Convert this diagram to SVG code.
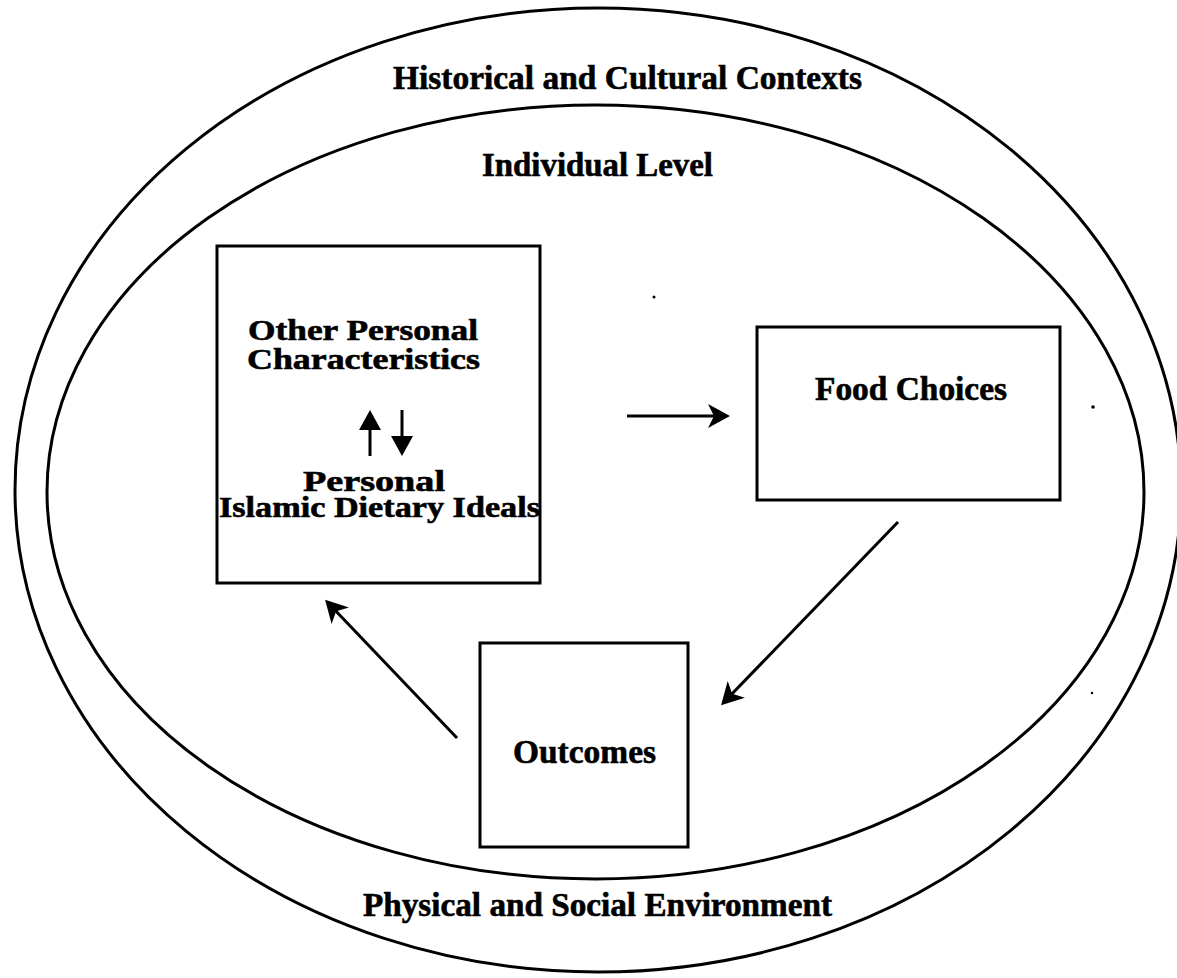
<svg xmlns="http://www.w3.org/2000/svg" width="1177" height="978" viewBox="0 0 1177 978">
<style>
.ring{fill:none;stroke:#000;stroke-width:3}
.box{fill:none;stroke:#000;stroke-width:3}
.t{font-family:"Liberation Serif","Times New Roman",serif;font-weight:bold;font-size:33px;fill:#000;stroke:#000;stroke-width:0.6}
.s{font-size:29px}
.ln{fill:none;stroke:#000;stroke-width:3}
</style>
<defs>
<marker id="barb" markerUnits="userSpaceOnUse" orient="auto" refX="0" refY="0" markerWidth="40" markerHeight="40" overflow="visible">
<path d="M 10 0 L -12 -12 L -6 0 L -12 12 Z" fill="#000"/>
</marker>
<marker id="tri" markerUnits="userSpaceOnUse" orient="auto" refX="0" refY="0" markerWidth="40" markerHeight="40" overflow="visible">
<path d="M 8 0 L -12 -11 L -12 11 Z" fill="#000"/>
</marker>
</defs>
<rect width="1177" height="978" fill="#fff"/>
<g id="outer-ring">
<ellipse class="ring" cx="598" cy="490" rx="583" ry="482"/>
<text class="t" x="393" y="89" textLength="469" lengthAdjust="spacingAndGlyphs">Historical and Cultural Contexts</text>
<text class="t" x="363" y="916" textLength="469" lengthAdjust="spacingAndGlyphs">Physical and Social Environment</text>
</g>
<g id="inner-ring">
<ellipse class="ring" cx="595.5" cy="492" rx="548.5" ry="387"/>
<text class="t" x="482" y="176" textLength="231" lengthAdjust="spacingAndGlyphs">Individual Level</text>
</g>
<g id="node-personal">
<rect class="box" x="217" y="246" width="323" height="337"/>
<text class="t s" x="248" y="340" textLength="230" lengthAdjust="spacingAndGlyphs">Other Personal</text>
<text class="t s" x="247" y="369" textLength="233" lengthAdjust="spacingAndGlyphs">Characteristics</text>
<line class="ln" x1="370" y1="456" x2="370" y2="418" marker-end="url(#tri)"/>
<line class="ln" x1="402" y1="410" x2="402" y2="448" marker-end="url(#tri)"/>
<text class="t s" x="303" y="491" textLength="142" lengthAdjust="spacingAndGlyphs">Personal</text>
<text class="t s" x="219" y="517" textLength="321" lengthAdjust="spacingAndGlyphs">Islamic Dietary Ideals</text>
</g>
<g id="node-food">
<rect class="box" x="757" y="327" width="303" height="173"/>
<text class="t" x="815" y="400" textLength="192" lengthAdjust="spacingAndGlyphs">Food Choices</text>
</g>
<g id="node-outcomes">
<rect class="box" x="480" y="643" width="208" height="204"/>
<text class="t" x="513" y="763" textLength="143" lengthAdjust="spacingAndGlyphs">Outcomes</text>
</g>
<g id="connectors">
<line class="ln" x1="627" y1="416" x2="720" y2="416" marker-end="url(#barb)"/>
<line class="ln" x1="898" y1="522" x2="728" y2="698" marker-end="url(#barb)"/>
<line class="ln" x1="457" y1="738" x2="332" y2="607" marker-end="url(#barb)"/>
</g>
<g id="specks" fill="#000">
<circle cx="654" cy="297" r="1.5"/>
<circle cx="1093" cy="407" r="1.8"/>
<circle cx="1092" cy="693" r="1.2"/>
</g>
</svg>
